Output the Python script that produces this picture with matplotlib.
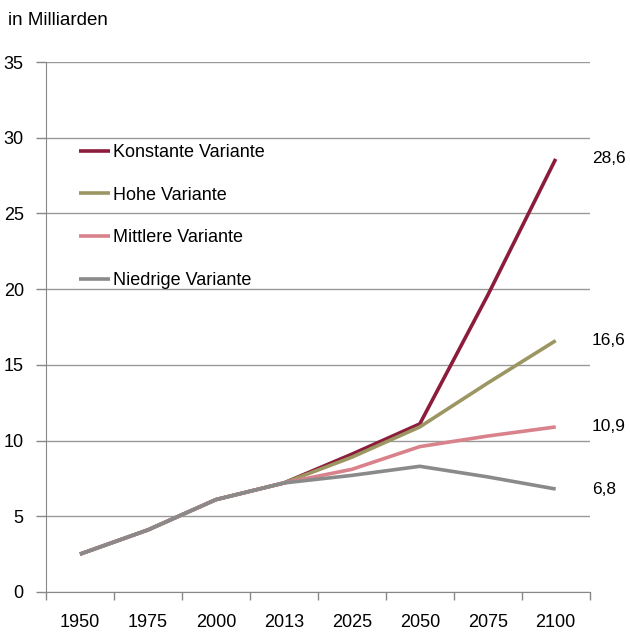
import numpy as np
import matplotlib.pyplot as plt

plt.rcParams['font.family'] = ['Liberation Sans', 'DejaVu Sans']

years = ['1950', '1975', '2000', '2013', '2025', '2050', '2075', '2100']
konstante = [2.5, 4.1, 6.1, 7.2, 9.1, 11.1, 19.6, 28.6]
hohe = [2.5, 4.1, 6.1, 7.2, 8.9, 10.9, 13.8, 16.6]
mittlere = [2.5, 4.1, 6.1, 7.2, 8.1, 9.6, 10.3, 10.9]
niedrige = [2.5, 4.1, 6.1, 7.2, 7.7, 8.3, 7.6, 6.8]
end_labels = ['28,6', '16,6', '10,9', '6,8']

series = [
    ('Konstante Variante', konstante, '#8c1c3c'),
    ('Hohe Variante', hohe, '#9c9662'),
    ('Mittlere Variante', mittlere, '#d9828b'),
    ('Niedrige Variante', niedrige, '#8a8a8a'),
]

fig = plt.figure(figsize=(6.3, 6.33), dpi=100)
ax = fig.add_axes([0.073, 0.0648, 0.863, 0.8372])

x = np.arange(len(years))
for name, vals, col in series:
    ax.plot(x, vals, color=col, lw=2.6, label=name, solid_capstyle='butt')

ax.set_xlim(-0.5, len(years) - 0.5)
ax.set_ylim(0, 35)
ax.set_yticks(range(0, 36, 5))
ax.set_xticks(x)
ax.set_xticklabels(years)
ax.set_xticks(np.arange(-0.5, len(years)), minor=True)
ax.tick_params(axis='x', which='major', length=0, pad=16, labelsize=13)
ax.tick_params(axis='x', which='minor', length=6, color='#888888', width=1)
ax.tick_params(axis='y', length=7, color='#888888', width=1, labelsize=13, pad=9)
ax.yaxis.grid(True, color='#999999', lw=1)
ax.set_axisbelow(True)
for s in ['top', 'right']:
    ax.spines[s].set_visible(False)
for s in ['left', 'bottom']:
    ax.spines[s].set_color('#888888')

# Endwerte rechts neben den Linien
for (name, vals, col), lab in zip(series, end_labels):
    ax.annotate(lab, xy=(x[-1], vals[-1]), xytext=(26, 0), textcoords='offset points',
                va='center', fontsize=12.5)

ax.legend(loc='upper left', bbox_to_anchor=(0.03, 0.876), frameon=False, fontsize=13,
          handlelength=1.75, handletextpad=0.15, labelspacing=1.42)

fig.text(0.013, 0.967, 'in Milliarden', fontsize=13.5, va='center')

fig.savefig('out.png', dpi=100)
